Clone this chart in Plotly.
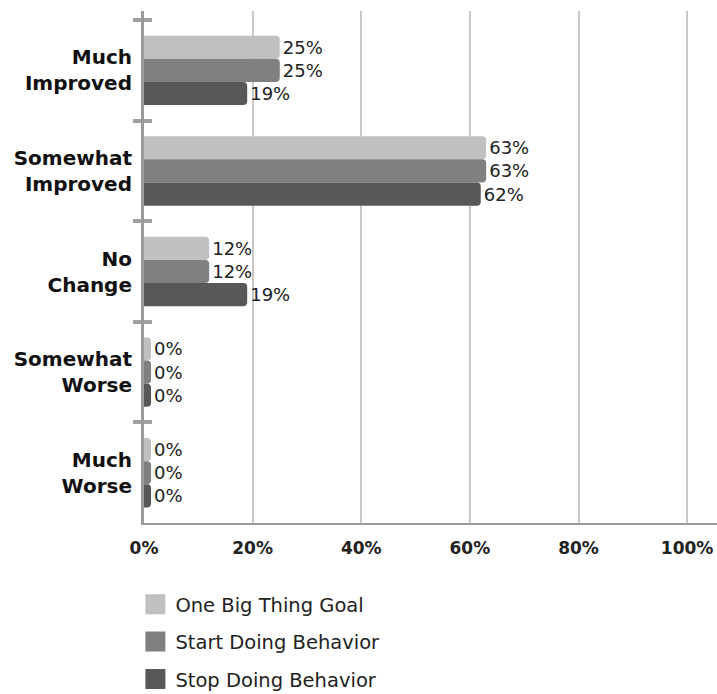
import plotly.graph_objects as go

# Survey responses by outcome, per goal type (percent of respondents)
categories = ["Much<br>Improved", "Somewhat<br>Improved", "No<br>Change",
              "Somewhat<br>Worse", "Much<br>Worse"]
series_names = ["One Big Thing Goal", "Start Doing Behavior", "Stop Doing Behavior"]
one_big_thing = [25, 63, 12, 0, 0]
start_doing = [25, 63, 12, 0, 0]
stop_doing = [19, 62, 19, 0, 0]
x_ticks = [0, 20, 40, 60, 80, 100]

colors = ["#c0c0c2", "#808083", "#58585b"]
FONT = "DejaVu Sans"
MIN_VISIBLE = 1.3  # zero responses still get a thin stub

fig = go.Figure()
for name, vals, col in zip(series_names, [one_big_thing, start_doing, stop_doing], colors):
    fig.add_trace(go.Bar(
        y=categories, x=[max(v, MIN_VISIBLE) for v in vals], orientation="h",
        name=name, marker=dict(color=col, line=dict(width=0), cornerradius=4),
        text=[f"{v}%" for v in vals], textposition="outside",
        textfont=dict(family=FONT, size=18, color="#222222"),
        constraintext="none", cliponaxis=False, showlegend=False,
        hoverinfo="skip",
    ))

# legend entries (square swatches)
for i, (name, col) in enumerate(zip(series_names, colors)):
    fig.add_trace(go.Scatter(
        x=[None], y=[None], mode="markers", name=name, yaxis="y2",
        legendgroup=f"g{i}",
        marker=dict(symbol="square", size=16, color=col,
                    line=dict(color=col, width=4)),
    ))

y_range = [4.5, -0.59]

fig.update_layout(
    width=717, height=694,
    margin=dict(l=144, r=0, t=11, b=171),
    paper_bgcolor="white", plot_bgcolor="white",
    barmode="group", bargap=0.31, bargroupgap=0,
    font=dict(family=FONT, color="#222222"),
    xaxis=dict(
        range=[0, 105.5], tickvals=x_ticks, ticktext=[f"{t}%" for t in x_ticks],
        showgrid=True, gridcolor="#c8c8c8", gridwidth=1.5,
        showline=True, linecolor="#9a9a9a", linewidth=2,
        ticks="", ticklabelstandoff=9, zeroline=False,
        tickfont=dict(family=FONT, size=17, color="#222222", weight="bold"),
    ),
    yaxis=dict(
        type="category", categoryarray=categories, range=y_range,
        showline=True, linecolor="#9a9a9a", linewidth=3,
        ticks="outside", tickson="boundaries", ticklen=8, tickwidth=4,
        tickcolor="#a0a0a0", showgrid=False, zeroline=False,
        ticklabelstandoff=5,
        tickfont=dict(family=FONT, size=20, color="#111111", weight="bold"),
    ),
    yaxis2=dict(
        overlaying="y", anchor="x", side="left", range=y_range,
        tickvals=[-0.5, 0.5, 1.5, 2.5, 3.5], showticklabels=False,
        ticks="inside", ticklen=8, tickwidth=4, tickcolor="#a0a0a0",
        showgrid=False, showline=False, zeroline=False,
    ),
    legend=dict(
        orientation="v", xref="paper", x=-0.015, xanchor="left",
        yref="container", y=0.157, yanchor="top",
        font=dict(family=FONT, size=19.5, color="#222222"),
        tracegroupgap=9, bgcolor="rgba(0,0,0,0)",
    ),
    showlegend=True,
)

fig.write_html("out.html")
